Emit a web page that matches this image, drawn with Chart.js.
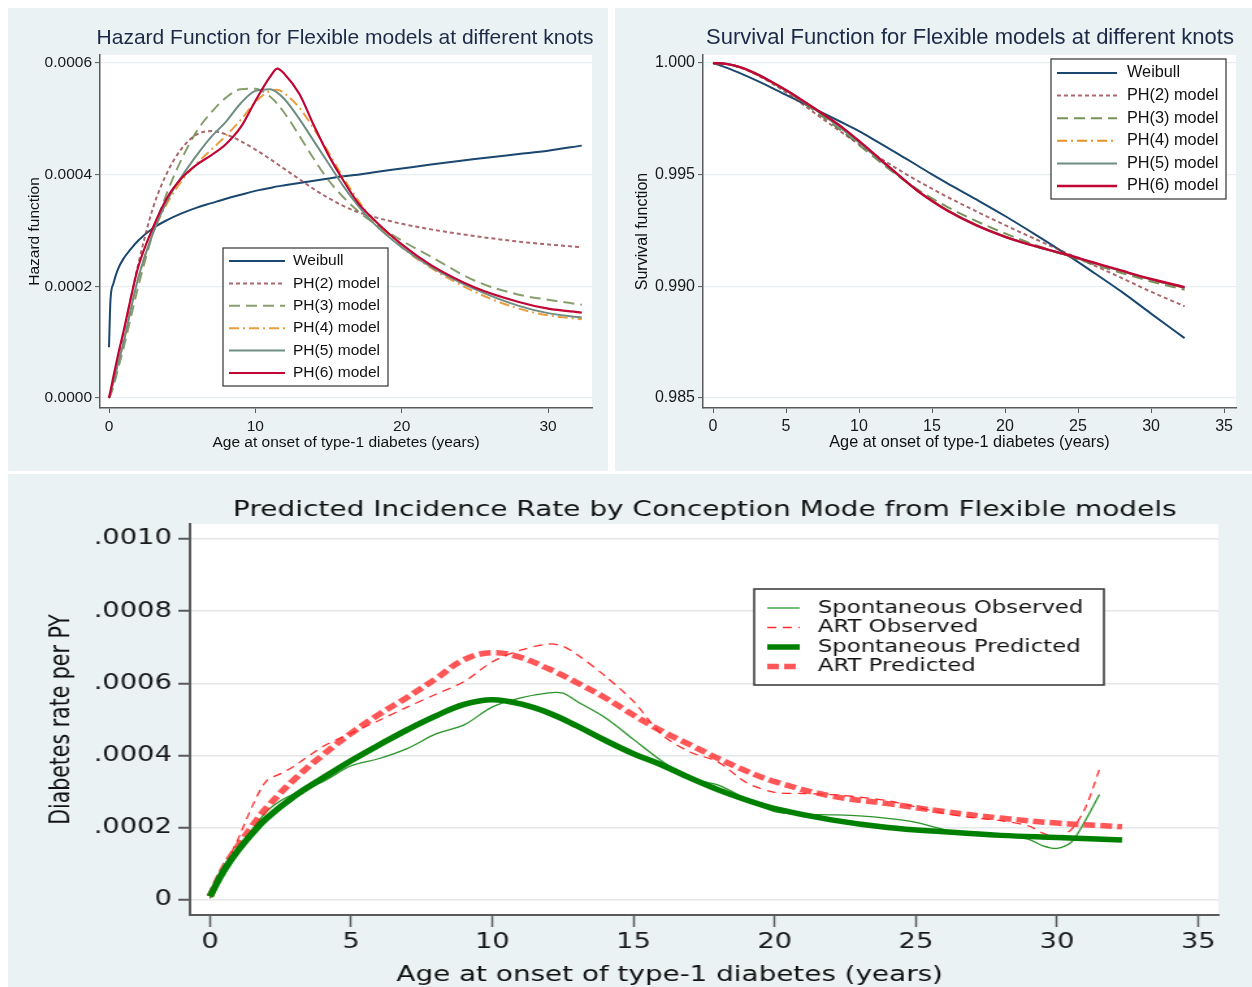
<!DOCTYPE html>
<html>
<head>
<meta charset="utf-8">
<script src="https://cdn.jsdelivr.net/npm/chart.js@4.4.1/dist/chart.umd.min.js"></script>
<style>
body { margin:0; background:#fff; width:1252px; height:987px; overflow:hidden; position:relative; }
#hazard { position:absolute; left:8px; top:8px; }
#survival { position:absolute; left:615px; top:8px; }
#incWrap { position:absolute; left:8px; top:474px; transform-origin:0 0; transform:scaleX(1.3); }
#incWrap canvas { display:block; }
</style>
</head>
<body>
<canvas id="hazard" width="600" height="463"></canvas>
<canvas id="survival" width="637" height="463"></canvas>
<div id="incWrap"><canvas id="incidence" width="957" height="513"></canvas></div>
<script>
// ---- hazard (values per 10,000 person-years) ----
var hzAge = [0, 0.1, 0.3, 0.6, 1, 1.5, 2, 3, 4, 5, 6, 7, 8, 9, 10, 11, 11.5, 12, 13, 14, 15, 16, 17, 18, 20, 22, 25, 28, 30, 32.3];
var hzWeibull = [0.91, 1.75, 2.05, 2.3, 2.5, 2.67, 2.82, 3.04, 3.19, 3.31, 3.41, 3.49, 3.57, 3.64, 3.71, 3.76, 3.79, 3.81, 3.85, 3.89, 3.93, 3.97, 4.0, 4.04, 4.11, 4.18, 4.28, 4.37, 4.43, 4.52];
var hzPH2 = [0, 0.1, 0.3, 0.65, 1.15, 1.8, 2.4, 3.4, 4.05, 4.48, 4.72, 4.78, 4.72, 4.6, 4.45, 4.28, 4.19, 4.1, 3.92, 3.74, 3.58, 3.44, 3.33, 3.25, 3.12, 3.02, 2.9, 2.8, 2.75, 2.7];
var hzPH3 = [0, 0.05, 0.2, 0.5, 0.9, 1.45, 2.0, 2.95, 3.7, 4.3, 4.78, 5.12, 5.38, 5.53, 5.54, 5.4, 5.27, 5.1, 4.7, 4.28, 3.9, 3.6, 3.35, 3.15, 2.82, 2.53, 2.1, 1.85, 1.76, 1.67];
var hzPH4 = [0, 0.08, 0.28, 0.6, 1.0, 1.6, 2.15, 2.95, 3.5, 3.9, 4.2, 4.45, 4.7, 4.98, 5.3, 5.5, 5.52, 5.45, 5.2, 4.82, 4.4, 3.95, 3.55, 3.2, 2.7, 2.33, 1.9, 1.6, 1.48, 1.41];
var hzPH5 = [0, 0.08, 0.28, 0.6, 1.0, 1.6, 2.15, 2.95, 3.55, 3.98, 4.35, 4.68, 4.95, 5.28, 5.5, 5.53, 5.47, 5.35, 5.0, 4.6, 4.2, 3.8, 3.45, 3.15, 2.7, 2.35, 1.95, 1.65, 1.52, 1.44];
var hzPH6 = [0, 0.12, 0.38, 0.75, 1.2, 1.8, 2.35, 3.05, 3.6, 3.95, 4.18, 4.35, 4.55, 4.85, 5.32, 5.75, 5.9, 5.8, 5.45, 4.88, 4.35, 3.9, 3.5, 3.22, 2.75, 2.38, 1.98, 1.72, 1.6, 1.53];
var hzXTicks = [0, 10, 20, 30];
var hzXLabels = ['0', '10', '20', '30'];
var hzYTicks = [0, 0.0002, 0.0004, 0.0006];
var hzYLabels = ['0.0000', '0.0002', '0.0004', '0.0006'];

// ---- survival ----
var svAge = [0, 1, 2, 3, 4, 5, 6, 7, 8, 9, 10, 11, 12, 13, 14, 15, 16, 18, 20, 22, 24, 26, 28, 30, 32.3];
var svWeibull = [1.0, 0.99977, 0.99950, 0.99921, 0.99890, 0.99857, 0.99825, 0.99793, 0.99761, 0.99728, 0.99695, 0.99657, 0.99619, 0.99580, 0.99541, 0.99501, 0.99463, 0.99390, 0.99315, 0.99235, 0.99152, 0.99065, 0.98975, 0.98878, 0.98768];
var svPH2 = [1.0, 0.99994, 0.99976, 0.99947, 0.99910, 0.99868, 0.99822, 0.99774, 0.99727, 0.99681, 0.99636, 0.99593, 0.99551, 0.99511, 0.99473, 0.99437, 0.99402, 0.99337, 0.99274, 0.99214, 0.99155, 0.99097, 0.99037, 0.98976, 0.98911];
var svPH3 = [1.0, 0.99995, 0.99979, 0.99951, 0.99915, 0.99875, 0.99831, 0.99784, 0.99736, 0.99686, 0.99633, 0.99580, 0.99528, 0.99479, 0.99434, 0.99394, 0.99357, 0.99293, 0.99237, 0.99187, 0.99142, 0.99100, 0.99060, 0.99022, 0.98985];
var svPH4 = [1.0, 0.99995, 0.99978, 0.99950, 0.99915, 0.99878, 0.99837, 0.99793, 0.99748, 0.99700, 0.99648, 0.99592, 0.99536, 0.99481, 0.99429, 0.99384, 0.99343, 0.99276, 0.99223, 0.99181, 0.99145, 0.99106, 0.99068, 0.99031, 0.98993];
var svPH5 = [1.0, 0.99995, 0.99978, 0.99950, 0.99915, 0.99877, 0.99835, 0.99791, 0.99745, 0.99696, 0.99644, 0.99589, 0.99534, 0.99480, 0.99429, 0.99384, 0.99343, 0.99276, 0.99223, 0.99181, 0.99145, 0.99106, 0.99068, 0.99031, 0.98994];
var svPH6 = [1.0, 0.99995, 0.99978, 0.99950, 0.99916, 0.99879, 0.99838, 0.99795, 0.99751, 0.99704, 0.99651, 0.99595, 0.99538, 0.99482, 0.99428, 0.99382, 0.99341, 0.99274, 0.99222, 0.99181, 0.99146, 0.99108, 0.99070, 0.99033, 0.98996];
var svXTicks = [0, 5, 10, 15, 20, 25, 30, 35];
var svXLabels = ['0', '5', '10', '15', '20', '25', '30', '35'];
var svYTicks = [0.985, 0.990, 0.995, 1.000];
var svYLabels = ['0.985', '0.990', '0.995', '1.000'];

// ---- incidence by conception mode (per 10,000 PY) ----
var obsAge = [0, 0.5, 1, 1.5, 2, 2.5, 3, 4, 5, 6, 7, 8, 9, 10, 11, 12, 12.5, 13, 14, 15, 16, 17, 18, 19, 20, 21, 22, 23, 24, 25, 26, 27, 28, 29, 29.5, 30, 30.5, 31, 31.5];
var spontObs = [0.05, 0.7, 1.3, 1.95, 2.45, 2.75, 2.95, 3.28, 3.72, 3.92, 4.2, 4.6, 4.85, 5.35, 5.6, 5.74, 5.73, 5.5, 5.05, 4.45, 3.85, 3.38, 3.18, 2.8, 2.45, 2.38, 2.36, 2.33, 2.26, 2.15, 1.95, 1.85, 1.8, 1.68, 1.5, 1.43, 1.6, 2.2, 2.92];
var artObs = [0.05, 0.9, 1.7, 2.6, 3.3, 3.5, 3.72, 4.25, 4.62, 4.98, 5.35, 5.7, 6.05, 6.6, 6.92, 7.09, 7.03, 6.8, 6.2, 5.5, 4.58, 4.1, 3.82, 3.25, 2.98, 2.95, 2.92, 2.85, 2.75, 2.58, 2.4, 2.28, 2.2, 2.05, 1.85, 1.75, 1.95, 2.55, 3.62];
var predAge = [0, 0.5, 1, 1.5, 2, 3, 4, 5, 6, 7, 8, 9, 10, 11, 12, 13, 14, 15, 16, 17, 18, 19, 20, 22, 24, 26, 28, 30, 32.3];
var spontPred = [0.1, 0.83, 1.38, 1.85, 2.26, 2.88, 3.38, 3.86, 4.3, 4.72, 5.1, 5.42, 5.55, 5.43, 5.18, 4.82, 4.42, 4.05, 3.74, 3.38, 3.05, 2.77, 2.53, 2.22, 2.01, 1.89, 1.79, 1.73, 1.66];
var artPred = [0.1, 0.9, 1.5, 2.05, 2.55, 3.35, 4.02, 4.62, 5.15, 5.62, 6.13, 6.66, 6.85, 6.72, 6.4, 6.02, 5.6, 5.12, 4.68, 4.3, 3.92, 3.57, 3.28, 2.88, 2.67, 2.45, 2.27, 2.13, 2.03];
var incXTicks = [0, 5, 10, 15, 20, 25, 30, 35];
var incXLabels = ['0', '5', '10', '15', '20', '25', '30', '35'];
var incYTicks = [0, 0.0002, 0.0004, 0.0006, 0.0008, 0.0010];
var incYLabels = ['0', '.0002', '.0004', '.0006', '.0008', '.0010'];

var PANEL = '#eaf2f3';
var AXIS = '#5a5a5a';
var SANS = "'Liberation Sans', Arial, sans-serif";
var WIDE = "'DejaVu Sans', Verdana, sans-serif";

function pts(xs, ys, k) {
    return xs.map(function(x, i){ return {x: x, y: ys[i] * k}; });
}

function line(label, xs, ys, k, color, width, dash, order, tension){
    var ds = {
        label: label, data: pts(xs, ys, k),
        borderColor: color, borderWidth: width, borderDash: dash || [],
        pointRadius: 0, fill: false, order: order
    };
    if (tension) { ds.tension = tension; } else { ds.cubicInterpolationMode = 'monotone'; }
    return ds;
}

// panel background + white plot region
var panelBg = {
    id: 'panelBg',
    beforeDraw: function(chart){
        var ctx = chart.ctx, a = chart.chartArea;
        ctx.save();
        ctx.fillStyle = PANEL;
        ctx.fillRect(0, 0, chart.width, chart.height);
        ctx.fillStyle = '#fff';
        ctx.fillRect(a.left, a.top, a.right - a.left, a.bottom - a.top);
        ctx.restore();
    }
};

var headText = {
    id: 'headText',
    afterDraw: function(chart, args, o){
        var ctx = chart.ctx;
        ctx.save();
        ctx.textAlign = 'center';
        ctx.textBaseline = 'middle';
        o.items.forEach(function(t){
            ctx.font = t.font;
            ctx.fillStyle = t.color;
            ctx.fillText(t.text, t.x, t.y);
        });
        ctx.restore();
    }
};

// framed legend inside the plot
var boxLegend = {
    id: 'boxLegend',
    afterDatasetsDraw: function(chart, args, o){
        var ctx = chart.ctx;
        ctx.save();
        ctx.fillStyle = '#fff';
        ctx.fillRect(o.x, o.y, o.w, o.h);
        ctx.strokeStyle = '#333';
        ctx.lineWidth = o.border;
        ctx.strokeRect(o.x, o.y, o.w, o.h);
        ctx.font = o.font;
        ctx.textBaseline = 'middle';
        chart.data.datasets.forEach(function(ds, i){
            var y = o.y + o.first + i * o.row;
            ctx.strokeStyle = ds.borderColor;
            ctx.lineWidth = ds.borderWidth;
            ctx.setLineDash(ds.borderDash);
            ctx.beginPath();
            ctx.moveTo(o.x0, y);
            ctx.lineTo(o.x1, y);
            ctx.stroke();
            ctx.setLineDash([]);
            ctx.fillStyle = '#111';
            ctx.fillText(ds.label, o.tx, y);
        });
        ctx.restore();
    }
};

function xAxis(min, max, ticks, labels, title, f){
    return {
        type: 'linear', min: min, max: max,
        afterFit: function(s){ s.height = f.h; },
        afterBuildTicks: function(s){ s.ticks = ticks.map(function(v){ return {value: v}; }); },
        ticks: { callback: function(v, i){ return labels[i]; }, font: f.tick, color: '#1a1a1a', padding: f.pad, maxRotation: 0, autoSkip: false },
        grid: { drawOnChartArea: false, tickColor: AXIS, tickLength: f.tl, tickWidth: f.tw },
        border: { color: AXIS, width: f.bw },
        title: { display: !!title, text: title, font: f.title, color: '#111', padding: {top: 0, bottom: f.tpad} }
    };
}

function yAxis(min, max, ticks, labels, title, f){
    return {
        type: 'linear', min: min, max: max,
        afterFit: function(s){ s.width = f.w; },
        afterBuildTicks: function(s){ s.ticks = ticks.map(function(v){ return {value: v}; }); },
        ticks: { callback: function(v, i){ return labels[i]; }, font: f.tick, color: '#1a1a1a', padding: f.pad, autoSkip: false },
        grid: { color: f.grid, lineWidth: f.gw, tickColor: AXIS, tickLength: f.tl, tickWidth: f.tw },
        border: { color: AXIS, width: f.bw },
        title: { display: true, text: title, font: f.title, color: '#111', padding: {top: f.tpad, bottom: 0} }
    };
}

var xTitle = 'Age at onset of type-1 diabetes (years)';

// hazard chart
new Chart(document.getElementById('hazard'), {
    type: 'line',
    data: { datasets: [
        line('Weibull', hzAge, hzWeibull, 1e-4, '#1a476f', 2, [], 6),
        line('PH(2) model', hzAge, hzPH2, 1e-4, 'rgba(144,53,59,0.75)', 2, [4, 3], 5),
        line('PH(3) model', hzAge, hzPH3, 1e-4, 'rgba(85,117,47,0.7)', 2, [11, 6], 4),
        line('PH(4) model', hzAge, hzPH4, 1e-4, 'rgba(227,126,0,0.75)', 2, [10, 4, 2, 4], 3),
        line('PH(5) model', hzAge, hzPH5, 1e-4, '#6e8e84', 2, [], 2),
        line('PH(6) model', hzAge, hzPH6, 1e-4, '#c10534', 2.2, [], 1)
    ]},
    options: {
        responsive: false, animation: false,
        layout: { padding: { left: 0, right: 16, top: 47, bottom: 0 } },
        plugins: {
            legend: { display: false }, tooltip: { enabled: false },
            headText: { items: [{ text: 'Hazard Function for Flexible models at different knots', x: 337, y: 30, font: '21px ' + SANS, color: '#1c2a48' }] },
            boxLegend: { x: 215, y: 240, w: 165, h: 138, first: 13, row: 22.4, x0: 221, x1: 277, tx: 285, font: '15.5px ' + SANS, border: 1.2 }
        },
        scales: {
            x: xAxis(-0.615, 33.0, hzXTicks, hzXLabels, xTitle, { h: 63, tick: { family: SANS, size: 15.5 }, pad: 4, tl: 5, tw: 1, bw: 1.5, title: { family: SANS, size: 15.5 }, tpad: 19 }),
            y: yAxis(-0.0000179, 0.0006143, hzYTicks, hzYLabels, 'Hazard function', { w: 92, tick: { family: SANS, size: 15.5 }, pad: 3, grid: '#e6eff1', gw: 1.2, tl: 5, tw: 1, bw: 1.5, title: { family: SANS, size: 15.5 }, tpad: 17 })
        }
    },
    plugins: [panelBg, headText, boxLegend]
});

// survival chart
new Chart(document.getElementById('survival'), {
    type: 'line',
    data: { datasets: [
        line('Weibull', svAge, svWeibull, 1, '#1a476f', 2, [], 6),
        line('PH(2) model', svAge, svPH2, 1, 'rgba(144,53,59,0.75)', 2, [4, 3], 5),
        line('PH(3) model', svAge, svPH3, 1, 'rgba(85,117,47,0.8)', 2, [11, 6], 4),
        line('PH(4) model', svAge, svPH4, 1, 'rgba(227,126,0,0.85)', 2, [10, 4, 2, 4], 3),
        line('PH(5) model', svAge, svPH5, 1, '#6e8e84', 2, [], 2),
        line('PH(6) model', svAge, svPH6, 1, '#c10534', 2.4, [], 1)
    ]},
    options: {
        responsive: false, animation: false,
        layout: { padding: { left: 0, right: 16, top: 47, bottom: 0 } },
        plugins: {
            legend: { display: false }, tooltip: { enabled: false },
            headText: { items: [{ text: 'Survival Function for Flexible models at different knots', x: 355, y: 30, font: '22px ' + SANS, color: '#1c2a48' }] },
            boxLegend: { x: 436, y: 51, w: 175, h: 140, first: 14, row: 22.6, x0: 442, x1: 502, tx: 512, font: '16.3px ' + SANS, border: 1.2 }
        },
        scales: {
            x: xAxis(-0.685, 35.82, svXTicks, svXLabels, xTitle, { h: 63, tick: { family: SANS, size: 16 }, pad: 4, tl: 5, tw: 1, bw: 1.5, title: { family: SANS, size: 16.3 }, tpad: 19 }),
            y: yAxis(0.984554, 1.000357, svYTicks, svYLabels, 'Survival function', { w: 88, tick: { family: SANS, size: 16 }, pad: 3, grid: '#e6eff1', gw: 1.2, tl: 5, tw: 1, bw: 1.5, title: { family: SANS, size: 16 }, tpad: 18 })
        }
    },
    plugins: [panelBg, headText, boxLegend]
});

// incidence chart (canvas is stretched 1.3x horizontally like the source)
new Chart(document.getElementById('incidence'), {
    type: 'line',
    data: { datasets: [
        line('Spontaneous Observed', obsAge, spontObs, 1e-4, '#2a952a', 1.3, [], 3, 0.3),
        line('ART Observed', obsAge, artObs, 1e-4, '#ff2a2a', 1.3, [7, 5], 4, 0.3),
        line('Spontaneous Predicted', predAge, spontPred, 1e-4, '#008000', 5.5, [], 1, 0.4),
        line('ART Predicted', predAge, artPred, 1e-4, 'rgba(255,40,40,0.78)', 5.5, [9, 4], 2, 0.4)
    ]},
    options: {
        responsive: false, animation: false,
        layout: { padding: { left: 0, right: 26, top: 50, bottom: 0 } },
        plugins: {
            legend: { display: false }, tooltip: { enabled: false },
            headText: { items: [
                { text: 'Predicted Incidence Rate by Conception Mode from Flexible models', x: 536, y: 36, font: '21.5px ' + WIDE, color: '#111' },
                { text: xTitle, x: 509, y: 501, font: '21.4px ' + WIDE, color: '#111' }
            ] },
            boxLegend: { x: 574, y: 115, w: 269, h: 96, first: 19, row: 19.5, x0: 584, x1: 609, tx: 623, font: '17.5px ' + WIDE, border: 1.5 }
        },
        scales: {
            x: xAxis(-0.708, 35.71, incXTicks, incXLabels, '', { h: 72, tick: { family: WIDE, size: 21 }, pad: 3, tl: 12, tw: 1.5, bw: 2, title: { family: WIDE, size: 21 }, tpad: 0 }),
            y: yAxis(-0.0000416, 0.0010416, incYTicks, incYLabels, 'Diabetes rate per PY', { w: 140, tick: { family: WIDE, size: 21 }, pad: 5, grid: '#e4e7e8', gw: 1.5, tl: 9, tw: 2, bw: 2, title: { family: WIDE, size: 20.5 }, tpad: 29 })
        }
    },
    plugins: [panelBg, headText, boxLegend]
});
</script>
</body>
</html>
